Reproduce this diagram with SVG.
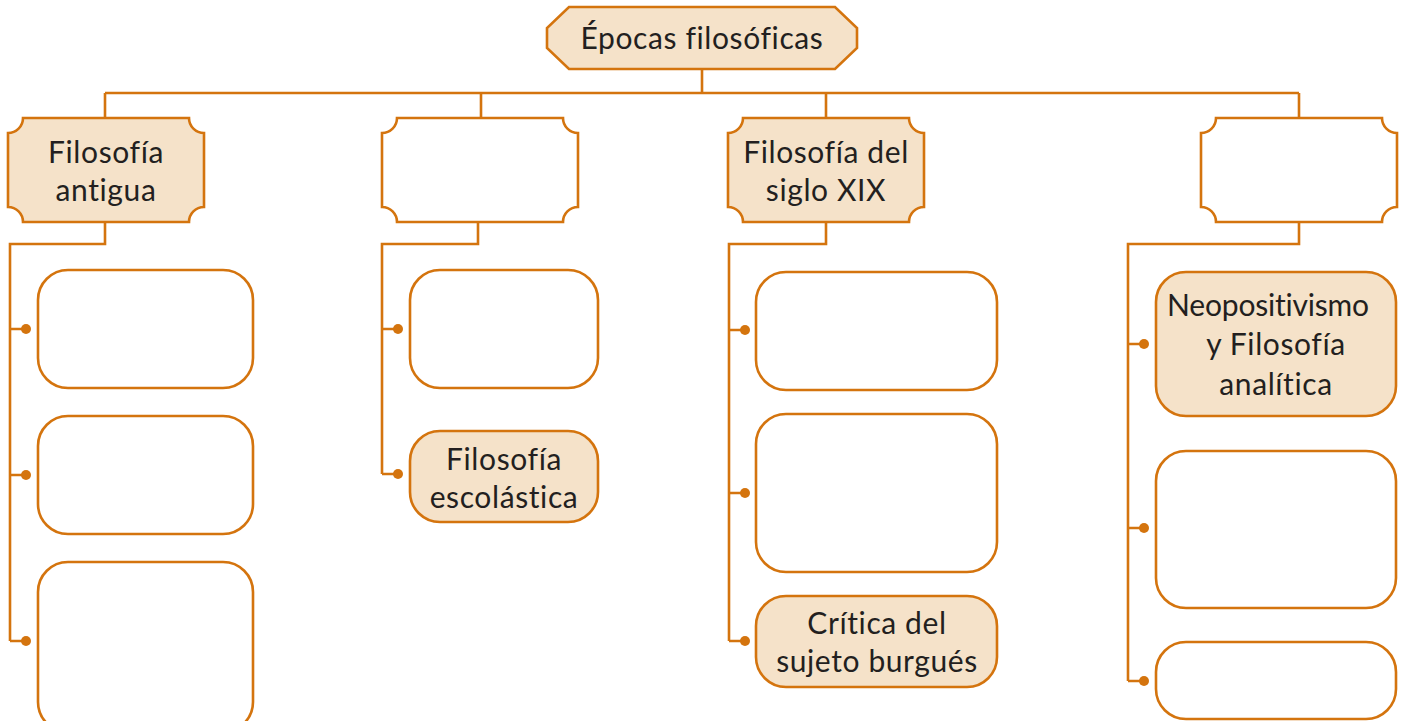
<svg xmlns="http://www.w3.org/2000/svg" width="1403" height="721" viewBox="0 0 1403 721">
<style>
.s{fill:none;stroke:#d4740e;stroke-width:2.6}
.f{fill:#f5e2c9;stroke:#d4740e;stroke-width:2.6}
.w{fill:#fff;stroke:#d4740e;stroke-width:2.6}
.d{fill:#d4740e}
text{font-family:Lato,"Open Sans",sans-serif;font-size:30px;letter-spacing:0.6px;font-variant-ligatures:none;fill:#231f20;text-anchor:middle}
</style>
<rect width="1403" height="721" fill="#fff"/>
<g id="connectors">
<path class="s" d="M702,69V93M105,93H1299M105,93V118M481,93V118M826,93V118M1299,93V118"/>
<path class="s" d="M105,222V244H10V641M10,329H26M10,475H26M10,641H26"/>
<path class="s" d="M478,222V244H382V474M382,329H398M382,474H398"/>
<path class="s" d="M826,222V244H729V641M729,330H745M729,493H745M729,641H745"/>
<path class="s" d="M1299,222V244H1128V681M1128,344H1144M1128,528H1144M1128,681H1144"/>
<g class="d">
<circle cx="26" cy="329" r="5"/><circle cx="26" cy="475" r="5"/><circle cx="26" cy="641" r="5"/>
<circle cx="398" cy="329" r="5"/><circle cx="398" cy="474" r="5"/>
<circle cx="745" cy="330" r="5"/><circle cx="745" cy="493" r="5"/><circle cx="745" cy="641" r="5"/>
<circle cx="1144" cy="344" r="5"/><circle cx="1144" cy="528" r="5"/><circle cx="1144" cy="681" r="5"/>
</g>
</g>
<g id="root">
<path class="f" d="M569,7H835L857,28V48L835,69H569L547,48V28Z"/>
<text x="702" y="49">Épocas filosóficas</text>
</g>
<g id="n1">
<path class="f" d="M23,118H189A15,15 0 0 0 204,133V207A15,15 0 0 0 189,222H23A15,15 0 0 0 8,207V133A15,15 0 0 0 23,118Z"/>
<text x="106" y="163">Filosofía</text>
<text x="106" y="201">antigua</text>
</g>
<g id="n2">
<path class="w" d="M397,118H563A15,15 0 0 0 578,133V207A15,15 0 0 0 563,222H397A15,15 0 0 0 382,207V133A15,15 0 0 0 397,118Z"/>
</g>
<g id="n3">
<path class="f" d="M743,118H909A15,15 0 0 0 924,133V207A15,15 0 0 0 909,222H743A15,15 0 0 0 728,207V133A15,15 0 0 0 743,118Z"/>
<text x="826" y="163">Filosofía del</text>
<text x="826" y="201">siglo XIX</text>
</g>
<g id="n4">
<path class="w" d="M1216,118H1382A15,15 0 0 0 1397,133V207A15,15 0 0 0 1382,222H1216A15,15 0 0 0 1201,207V133A15,15 0 0 0 1216,118Z"/>
</g>
<g id="l1a"><rect class="w" x="38" y="270" width="215" height="118" rx="30"/></g>
<g id="l1b"><rect class="w" x="38" y="416" width="215" height="118" rx="30"/></g>
<g id="l1c"><rect class="w" x="38" y="562" width="215" height="170" rx="30"/></g>
<g id="l2a"><rect class="w" x="410" y="270" width="188" height="118" rx="30"/></g>
<g id="l2b"><rect class="f" x="410" y="431" width="188" height="91" rx="30"/>
<text x="504" y="470">Filosofía</text>
<text x="504" y="508">escolástica</text>
</g>
<g id="l3a"><rect class="w" x="756" y="272" width="241" height="118" rx="30"/></g>
<g id="l3b"><rect class="w" x="756" y="414" width="241" height="158" rx="30"/></g>
<g id="l3c"><rect class="f" x="756" y="596" width="241" height="91" rx="30"/>
<text x="877" y="634">Crítica del</text>
<text x="877" y="672">sujeto burgués</text>
</g>
<g id="l4a"><rect class="f" x="1156" y="272" width="240" height="144" rx="30"/>
<text x="1268" y="316" style="letter-spacing:-0.2px">Neopositivismo</text>
<text x="1276" y="355">y Filosofía</text>
<text x="1276" y="395">analítica</text>
</g>
<g id="l4b"><rect class="w" x="1156" y="451" width="240" height="157" rx="30"/></g>
<g id="l4c"><rect class="w" x="1156" y="642" width="240" height="77" rx="30"/></g>
</svg>
